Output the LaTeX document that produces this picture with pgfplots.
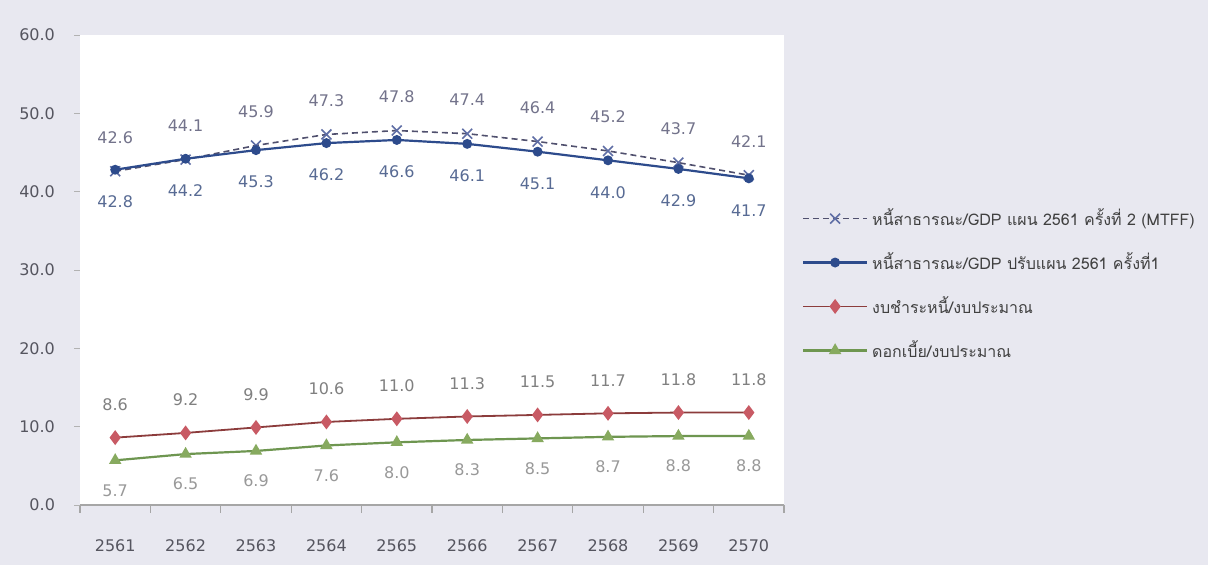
\documentclass[border=0pt]{standalone}
\usepackage{fontspec}
\usepackage{pgfplots}
\pgfplotsset{compat=1.18}
\setmainfont{DejaVu Sans}
\newfontfamily\thaifont[Script=Thai]{Loma}
\definecolor{bg}{RGB}{232,232,240}
\definecolor{mtffline}{RGB}{80,80,110}
\definecolor{mtffmark}{RGB}{95,110,165}
\definecolor{solidblue}{RGB}{45,75,140}
\definecolor{redline}{RGB}{140,60,60}
\definecolor{redmark}{RGB}{200,90,100}
\definecolor{greenline}{RGB}{110,150,80}
\definecolor{greenmark}{RGB}{135,170,95}
\definecolor{txt}{RGB}{85,85,95}
\begin{document}
\begin{tikzpicture}
\fill[bg] (0,0) rectangle (604pt,282.5pt);
\useasboundingbox (0,0) rectangle (604pt,282.5pt);
\begin{axis}[
  at={(40pt,30pt)}, anchor=south west,
  scale only axis, width=352pt, height=235pt,
  xmin=-0.5, xmax=9.5, ymin=0, ymax=60,
  axis background/.style={fill=white},
  axis x line*=bottom, axis y line*=left,
  y axis line style={draw=none},
  x axis line style={draw=gray!70, line width=0.6pt},
  xtick={0,...,9},
  xticklabels={2561,2562,2563,2564,2565,2566,2567,2568,2569,2570},
  minor xtick={-0.5,0.5,...,9.5},
  major x tick style={draw=none},
  minor x tick style={draw=gray!70, line width=0.6pt},
  minor tick length=4pt,
  ytick={0,10,...,60},
  major y tick style={draw=gray!60},
  major tick length=3pt,
  tick align=outside,
  ticklabel style={font=\fontsize{8pt}{9pt}\selectfont, text=txt},
  xticklabel style={yshift=-11pt},
  yticklabel style={xshift=-6pt},
  /pgf/number format/assume math mode=true,
  yticklabel={\pgfmathprintnumber[fixed,fixed zerofill,precision=1]{\tick}},
  nodes near coords={\pgfmathprintnumber[fixed,fixed zerofill,precision=1]{\pgfplotspointmeta}},
  nodes near coords style={font=\fontsize{8pt}{9pt}\selectfont, anchor=center},
  legend style={at={(1.025,0.64)}, anchor=north west, draw=none, fill=none,
    font=\thaifont\fontsize{8pt}{9pt}\selectfont, text=black!75,
    row sep=8pt, inner sep=0pt},
  legend cell align=left,
  legend image code/.code={\draw[mark repeat=2,mark phase=2,#1] plot coordinates {(0pt,0pt) (16pt,0pt) (32pt,0pt)};},
  clip=false,
]
\addplot[mtffline, densely dashed, line width=0.8pt, mark=x, mark size=3.5pt,
  mark options={solid, draw=mtffmark, line width=0.8pt},
  nodes near coords style={yshift=17pt, text=mtffline!80!white}]
  coordinates {(0,42.6) (1,44.1) (2,45.9) (3,47.3) (4,47.8) (5,47.4) (6,46.4) (7,45.2) (8,43.7) (9,42.1)};
\addlegendentry{หนี้สาธารณะ/GDP แผน 2561 ครั้งที่ 2 (MTFF)}
\addplot[solidblue, line width=1.1pt, mark=*, mark size=1.9pt,
  nodes near coords style={yshift=-16pt, text=solidblue!70!gray!90!white}]
  coordinates {(0,42.8) (1,44.2) (2,45.3) (3,46.2) (4,46.6) (5,46.1) (6,45.1) (7,44.0) (8,42.9) (9,41.7)};
\addlegendentry{หนี้สาธารณะ/GDP ปรับแผน 2561 ครั้งที่1}
\addplot[redline, line width=0.9pt, mark=diamond*, mark size=3pt,
  mark options={fill=redmark, draw=redmark},
  nodes near coords style={yshift=16.5pt, text=gray}]
  coordinates {(0,8.6) (1,9.2) (2,9.9) (3,10.6) (4,11.0) (5,11.3) (6,11.5) (7,11.7) (8,11.8) (9,11.8)};
\addlegendentry{งบชำระหนี้/งบประมาณ}
\addplot[greenline, line width=1.1pt, mark=triangle*, mark size=2.5pt,
  mark options={fill=greenmark, draw=greenmark},
  nodes near coords style={yshift=-15pt, text=gray!80}]
  coordinates {(0,5.7) (1,6.5) (2,6.9) (3,7.6) (4,8.0) (5,8.3) (6,8.5) (7,8.7) (8,8.8) (9,8.8)};
\addlegendentry{ดอกเบี้ย/งบประมาณ}
\end{axis}
\end{tikzpicture}
\end{document}
